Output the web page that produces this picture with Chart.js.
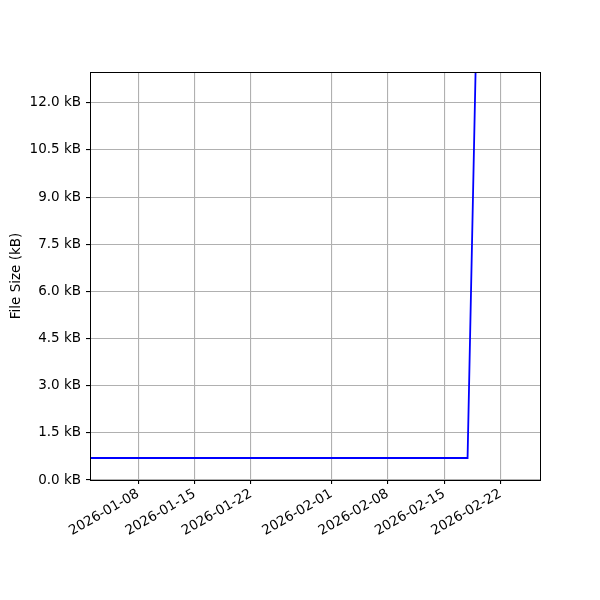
<!DOCTYPE html>
<html>
<head>
<meta charset="utf-8">
<script src="https://cdn.jsdelivr.net/npm/chart.js@4.4.1/dist/chart.umd.min.js"></script>
<style>
  body { margin: 0; background: #fff; }
</style>
</head>
<body>
<canvas id="chart" width="600" height="600"></canvas>
<script>
// data
const timestamps = ['2026-01-02T00:00:00Z', '2026-02-17T22:00:00Z', '2026-02-19T00:00:00Z'];
const sizesKB = [0.7, 0.7, 14.1];
const dateTicks = ['2026-01-08', '2026-01-15', '2026-01-22', '2026-02-01', '2026-02-08', '2026-02-15', '2026-02-22'];
const sizeTicks = [0, 1.5, 3, 4.5, 6, 7.5, 9, 10.5, 12];

const xMin = Date.parse('2026-01-02T00:00:00Z');
const xMax = Date.parse('2026-02-26T22:00:00Z');
const yMax = 12.98;

const font = { family: 'DejaVu Sans', size: 13.5 };

// full black frame round the plot area
const frame = {
  id: 'frame',
  afterDraw: (chart) => {
    const { ctx, chartArea: a } = chart;
    ctx.save();
    ctx.strokeStyle = '#000';
    ctx.lineWidth = 1;
    ctx.strokeRect(Math.round(a.left) + 0.5, Math.round(a.top) + 0.5,
      Math.round(a.right - a.left), Math.round(a.bottom - a.top));
    ctx.restore();
  },
};

const initApp = () => {
  const ctx = document.getElementById('chart').getContext('2d');
  new Chart(ctx, {
    type: 'line',
    data: {
      datasets: [
        {
          data: timestamps.map((t, i) => ({ x: Date.parse(t), y: sizesKB[i] })),
          borderColor: '#0000ff',
          borderWidth: 1.8,
          pointRadius: 0,
          tension: 0,
          fill: false,
        },
      ],
    },
    options: {
      responsive: false,
      animation: false,
      layout: { padding: { top: 72, right: 60, left: 0, bottom: 0 } },
      plugins: { legend: { display: false }, tooltip: { enabled: false } },
      scales: {
        x: {
          type: 'linear',
          min: xMin,
          max: xMax,
          afterBuildTicks: (axis) => {
            axis.ticks = dateTicks.map((d) => ({ value: Date.parse(d + 'T00:00:00Z') }));
          },
          afterFit: (axis) => { axis.height = 120; },
          grid: { color: '#b0b0b0', lineWidth: 1.1, tickColor: '#000', tickLength: 4 },
          border: { display: false },
          ticks: {
            autoSkip: false,
            minRotation: 30,
            maxRotation: 30,
            padding: 2,
            color: '#000',
            font,
            callback: (v) => new Date(v).toISOString().slice(0, 10),
          },
        },
        y: {
          min: 0,
          max: yMax,
          afterBuildTicks: (axis) => {
            axis.ticks = sizeTicks.map((v) => ({ value: v }));
          },
          afterFit: (axis) => { axis.width = 90; },
          grid: { color: '#b0b0b0', lineWidth: 1.1, tickColor: '#000', tickLength: 4 },
          border: { display: false },
          title: {
            display: true,
            text: 'File Size (kB)',
            color: '#000',
            font,
            padding: { top: 8, bottom: 0 },
          },
          ticks: {
            padding: 5,
            color: '#000',
            font,
            callback: (v) => v.toFixed(1) + ' kB',
          },
        },
      },
    },
    plugins: [frame],
  });
};

window.addEventListener('load', () => {
  initApp();
});
</script>
</body>
</html>
